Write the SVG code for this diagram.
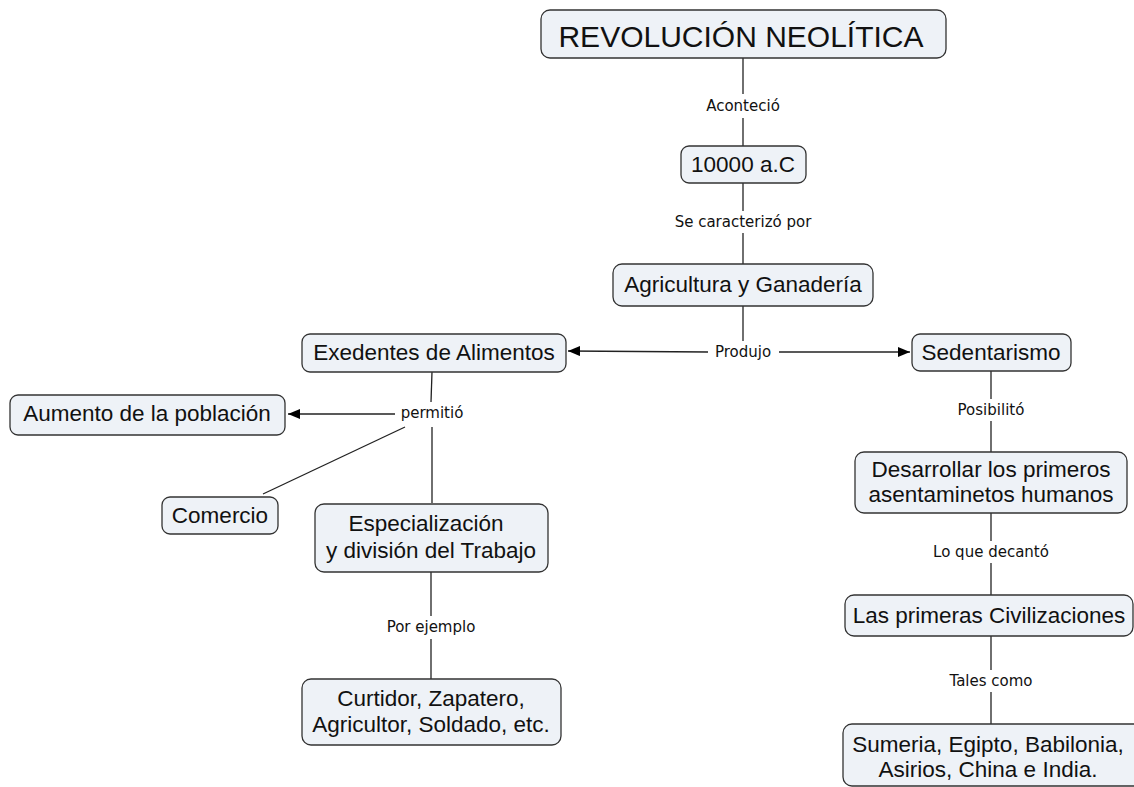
<svg xmlns="http://www.w3.org/2000/svg" width="1134" height="787" viewBox="0 0 1134 787">
<defs>
<marker id="arr" viewBox="0 0 12 10" refX="12" refY="5" markerWidth="12" markerHeight="10" markerUnits="userSpaceOnUse" orient="auto">
<path d="M0,0 L12,5 L0,10 Z" fill="#000"/>
</marker>
<style>
.box{fill:#eef2f7;stroke:#333;stroke-width:1.3}
.t{font-family:"Liberation Sans",Arial,sans-serif;font-size:22.5px;fill:#111;text-anchor:middle}
.lab{font-family:"DejaVu Sans",Verdana,sans-serif;font-size:15px;fill:#111;text-anchor:middle}
.ln{stroke:#222;stroke-width:1.3;fill:none}
</style>
</defs>
<rect width="1134" height="787" fill="#fff"/>
<g id="connectors">
<line class="ln" x1="743" y1="58" x2="743" y2="94"/>
<line class="ln" x1="743" y1="118" x2="743" y2="146"/>
<text class="lab" x="743" y="111">Aconteció</text>
<line class="ln" x1="743" y1="183" x2="743" y2="211"/>
<line class="ln" x1="743" y1="233" x2="743" y2="264"/>
<text class="lab" x="743" y="227">Se caracterizó por</text>
<line class="ln" x1="743" y1="306" x2="743" y2="341"/>
<text class="lab" x="743" y="357">Produjo</text>
<line class="ln" x1="708" y1="352" x2="568" y2="351" marker-end="url(#arr)"/>
<line class="ln" x1="779" y1="352" x2="910" y2="352" marker-end="url(#arr)"/>
<line class="ln" x1="991" y1="371" x2="991" y2="399"/>
<line class="ln" x1="991" y1="421" x2="991" y2="452"/>
<text class="lab" x="991" y="415">Posibilitó</text>
<line class="ln" x1="991" y1="513" x2="991" y2="541"/>
<line class="ln" x1="991" y1="563" x2="991" y2="595"/>
<text class="lab" x="991" y="557">Lo que decantó</text>
<line class="ln" x1="991" y1="636" x2="991" y2="670"/>
<line class="ln" x1="991" y1="692" x2="991" y2="724"/>
<text class="lab" x="991" y="686">Tales como</text>
<line class="ln" x1="432" y1="372" x2="431" y2="402"/>
<text class="lab" x="432" y="418">permitió</text>
<line class="ln" x1="395" y1="414" x2="288" y2="414" marker-end="url(#arr)"/>
<line class="ln" x1="405" y1="427" x2="263" y2="494"/>
<line class="ln" x1="432" y1="427" x2="432" y2="503"/>
<line class="ln" x1="431" y1="572" x2="431" y2="616"/>
<line class="ln" x1="431" y1="639" x2="431" y2="679"/>
<text class="lab" x="431" y="632">Por ejemplo</text>
</g>
<g id="n-title">
<rect class="box" x="541" y="10" width="405" height="48" rx="9"/>
<text class="t" x="741" y="47" style="font-size:30px">REVOLUCIÓN NEOLÍTICA</text>
</g>
<g id="n-10000">
<rect class="box" x="681" y="146" width="125" height="37" rx="8"/>
<text class="t" x="743" y="172">10000 a.C</text>
</g>
<g id="n-agricultura">
<rect class="box" x="613" y="264" width="260" height="42" rx="9"/>
<text class="t" x="743" y="292">Agricultura y Ganadería</text>
</g>
<g id="n-exedentes">
<rect class="box" x="302" y="334" width="264" height="38" rx="8"/>
<text class="t" x="434" y="360">Exedentes de Alimentos</text>
</g>
<g id="n-sedentarismo">
<rect class="box" x="912" y="334" width="159" height="37" rx="8"/>
<text class="t" x="991" y="360">Sedentarismo</text>
</g>
<g id="n-aumento">
<rect class="box" x="10" y="395" width="275" height="40" rx="8"/>
<text class="t" x="147" y="421">Aumento de la población</text>
</g>
<g id="n-comercio">
<rect class="box" x="162" y="497" width="116" height="37" rx="8"/>
<text class="t" x="220" y="523">Comercio</text>
</g>
<g id="n-especializacion">
<rect class="box" x="315" y="504" width="233" height="68" rx="9"/>
<text class="t" x="426" y="531">Especialización</text>
<text class="t" x="431" y="558">y división del Trabajo</text>
</g>
<g id="n-curtidor">
<rect class="box" x="302" y="679" width="259" height="66" rx="9"/>
<text class="t" x="431" y="706">Curtidor, Zapatero,</text>
<text class="t" x="431" y="732">Agricultor, Soldado, etc.</text>
</g>
<g id="n-desarrollar">
<rect class="box" x="855" y="452" width="272" height="61" rx="9"/>
<text class="t" x="991" y="477">Desarrollar los primeros</text>
<text class="t" x="991" y="502">asentaminetos humanos</text>
</g>
<g id="n-civilizaciones">
<rect class="box" x="845" y="595" width="288" height="41" rx="9"/>
<text class="t" x="989" y="623">Las primeras Civilizaciones</text>
</g>
<g id="n-sumeria">
<rect class="box" x="843" y="724" width="300" height="62" rx="9"/>
<text class="t" x="988" y="752">Sumeria, Egipto, Babilonia,</text>
<text class="t" x="988" y="777">Asirios, China e India.</text>
</g>
</svg>
